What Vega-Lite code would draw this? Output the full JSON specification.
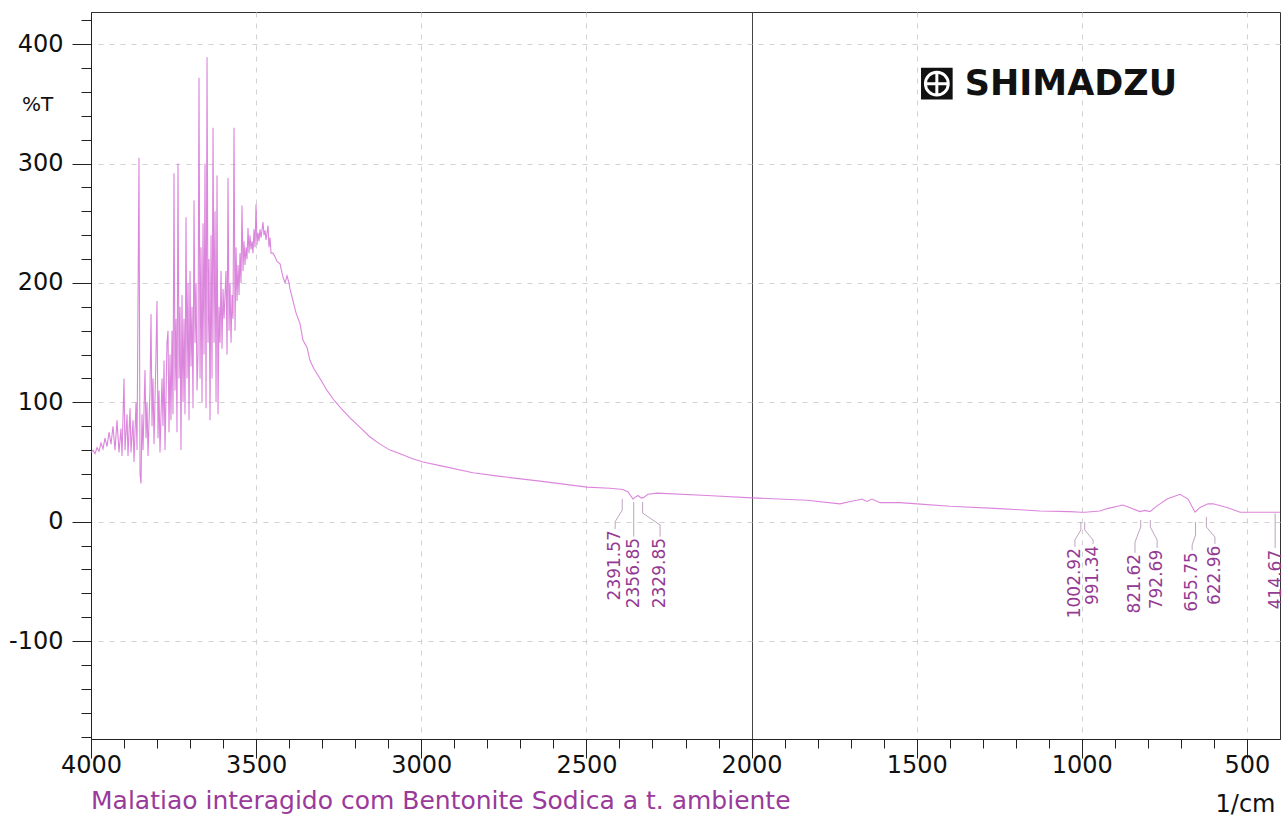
{
  "$schema": "https://vega.github.io/schema/vega-lite/v6.json",
  "width": 1189,
  "height": 727,
  "autosize": {"type": "none"},
  "padding": {"left": 91, "top": 12, "right": 4, "bottom": 77},
  "background": "white",
  "config": {"view": {"stroke": "#333333", "strokeWidth": 1}, "font": "DejaVu Sans"},
  "title": {
    "text": "Malatiao interagido com Bentonite Sodica a t. ambiente",
    "orient": "bottom",
    "anchor": "start",
    "frame": "group",
    "offset": 0,
    "dy": -7,
    "baseline": "alphabetic",
    "font": "DejaVu Sans",
    "fontSize": 25,
    "fontWeight": "normal",
    "color": "#9a3a9a"
  },
  "datasets": {
    "spectrum": [
      {"wn": 4000, "t": 58}, {"wn": 3993.9, "t": 60}, {"wn": 3987.9, "t": 57}, {"wn": 3981.8, "t": 62}, {"wn": 3975.8, "t": 59},
      {"wn": 3969.7, "t": 66}, {"wn": 3963.7, "t": 61}, {"wn": 3957.6, "t": 70}, {"wn": 3951.6, "t": 63}, {"wn": 3945.5, "t": 75},
      {"wn": 3939.4, "t": 65}, {"wn": 3933.4, "t": 80}, {"wn": 3927.3, "t": 60}, {"wn": 3921.3, "t": 85}, {"wn": 3915.2, "t": 58},
      {"wn": 3909.2, "t": 78}, {"wn": 3906.1, "t": 55}, {"wn": 3900.1, "t": 120}, {"wn": 3897.0, "t": 60}, {"wn": 3891.0, "t": 90},
      {"wn": 3888.0, "t": 55}, {"wn": 3881.9, "t": 95}, {"wn": 3878.9, "t": 58}, {"wn": 3872.8, "t": 85}, {"wn": 3869.8, "t": 50},
      {"wn": 3863.7, "t": 100}, {"wn": 3860.7, "t": 60}, {"wn": 3854.7, "t": 305}, {"wn": 3851.6, "t": 40}, {"wn": 3848.6, "t": 32},
      {"wn": 3845.6, "t": 90}, {"wn": 3842.5, "t": 60}, {"wn": 3836.5, "t": 127}, {"wn": 3833.4, "t": 70}, {"wn": 3830.4, "t": 100},
      {"wn": 3827.4, "t": 55}, {"wn": 3821.4, "t": 110}, {"wn": 3818.3, "t": 174}, {"wn": 3815.3, "t": 80}, {"wn": 3812.3, "t": 120},
      {"wn": 3809.2, "t": 65}, {"wn": 3803.2, "t": 140}, {"wn": 3800.2, "t": 185}, {"wn": 3797.1, "t": 70}, {"wn": 3794.1, "t": 110},
      {"wn": 3791.1, "t": 58}, {"wn": 3785.0, "t": 120}, {"wn": 3782.0, "t": 80}, {"wn": 3778.9, "t": 135}, {"wn": 3775.9, "t": 60},
      {"wn": 3769.9, "t": 150}, {"wn": 3766.9, "t": 160}, {"wn": 3763.8, "t": 75}, {"wn": 3760.8, "t": 140}, {"wn": 3757.8, "t": 85},
      {"wn": 3754.7, "t": 160}, {"wn": 3751.7, "t": 90}, {"wn": 3748.7, "t": 292}, {"wn": 3745.7, "t": 110}, {"wn": 3742.6, "t": 170},
      {"wn": 3739.6, "t": 75}, {"wn": 3736.6, "t": 300}, {"wn": 3733.5, "t": 120}, {"wn": 3730.5, "t": 180}, {"wn": 3727.5, "t": 60},
      {"wn": 3724.5, "t": 190}, {"wn": 3721.4, "t": 100}, {"wn": 3718.4, "t": 170}, {"wn": 3715.4, "t": 90}, {"wn": 3712.3, "t": 255},
      {"wn": 3709.3, "t": 120}, {"wn": 3706.3, "t": 200}, {"wn": 3703.2, "t": 85}, {"wn": 3700.2, "t": 210}, {"wn": 3697.2, "t": 130},
      {"wn": 3694.2, "t": 180}, {"wn": 3691.1, "t": 95}, {"wn": 3688.1, "t": 269}, {"wn": 3685.1, "t": 150}, {"wn": 3682.0, "t": 200},
      {"wn": 3679.0, "t": 110}, {"wn": 3676.0, "t": 140}, {"wn": 3673.0, "t": 372}, {"wn": 3669.9, "t": 120}, {"wn": 3666.9, "t": 230},
      {"wn": 3663.9, "t": 100}, {"wn": 3660.8, "t": 250}, {"wn": 3657.8, "t": 140}, {"wn": 3654.8, "t": 300}, {"wn": 3651.7, "t": 95},
      {"wn": 3648.7, "t": 389}, {"wn": 3645.7, "t": 150}, {"wn": 3642.7, "t": 220}, {"wn": 3639.6, "t": 85}, {"wn": 3636.6, "t": 240},
      {"wn": 3633.6, "t": 120}, {"wn": 3630.5, "t": 330}, {"wn": 3627.5, "t": 150}, {"wn": 3624.5, "t": 260}, {"wn": 3621.4, "t": 100},
      {"wn": 3618.4, "t": 290}, {"wn": 3615.4, "t": 90}, {"wn": 3612.4, "t": 180}, {"wn": 3609.3, "t": 150}, {"wn": 3606.3, "t": 210},
      {"wn": 3603.3, "t": 145}, {"wn": 3600.2, "t": 195}, {"wn": 3597.2, "t": 170}, {"wn": 3591.2, "t": 210}, {"wn": 3588.1, "t": 140},
      {"wn": 3585.1, "t": 288}, {"wn": 3582.1, "t": 160}, {"wn": 3579.1, "t": 200}, {"wn": 3576.0, "t": 150}, {"wn": 3573.0, "t": 190},
      {"wn": 3570.0, "t": 170}, {"wn": 3566.9, "t": 330}, {"wn": 3563.9, "t": 160}, {"wn": 3560.9, "t": 230}, {"wn": 3557.9, "t": 185},
      {"wn": 3554.8, "t": 215}, {"wn": 3551.8, "t": 190}, {"wn": 3548.9, "t": 225}, {"wn": 3545.8, "t": 200}, {"wn": 3542.8, "t": 265},
      {"wn": 3539.8, "t": 210}, {"wn": 3536.7, "t": 235}, {"wn": 3533.7, "t": 215}, {"wn": 3530.7, "t": 230}, {"wn": 3527.7, "t": 220},
      {"wn": 3524.6, "t": 246}, {"wn": 3521.6, "t": 225}, {"wn": 3518.6, "t": 240}, {"wn": 3515.5, "t": 228}, {"wn": 3512.5, "t": 235},
      {"wn": 3509.5, "t": 225}, {"wn": 3506.5, "t": 245}, {"wn": 3503.4, "t": 230}, {"wn": 3500.4, "t": 266}, {"wn": 3497.4, "t": 232},
      {"wn": 3494.4, "t": 242}, {"wn": 3491.3, "t": 235}, {"wn": 3488.3, "t": 245}, {"wn": 3485.3, "t": 238}, {"wn": 3479.2, "t": 251},
      {"wn": 3476.2, "t": 240}, {"wn": 3473.2, "t": 244}, {"wn": 3470.1, "t": 236}, {"wn": 3464.1, "t": 248}, {"wn": 3461.1, "t": 230},
      {"wn": 3458.0, "t": 238}, {"wn": 3455.0, "t": 225}, {"wn": 3448.9, "t": 225}, {"wn": 3442.9, "t": 222}, {"wn": 3436.8, "t": 218},
      {"wn": 3427.7, "t": 216}, {"wn": 3418.7, "t": 205}, {"wn": 3412.6, "t": 200}, {"wn": 3406.5, "t": 206}, {"wn": 3400.5, "t": 200},
      {"wn": 3397.5, "t": 195}, {"wn": 3388.4, "t": 185}, {"wn": 3379.3, "t": 175}, {"wn": 3367.2, "t": 166}, {"wn": 3358.1, "t": 152},
      {"wn": 3346.0, "t": 146}, {"wn": 3336.9, "t": 135}, {"wn": 3324.8, "t": 128}, {"wn": 3306.6, "t": 120}, {"wn": 3285.4, "t": 110},
      {"wn": 3267.3, "t": 103}, {"wn": 3246.1, "t": 96}, {"wn": 3215.8, "t": 87}, {"wn": 3185.5, "t": 79}, {"wn": 3155.2, "t": 71},
      {"wn": 3124.9, "t": 65}, {"wn": 3094.7, "t": 60}, {"wn": 3064.4, "t": 57}, {"wn": 3028.1, "t": 53}, {"wn": 2994.8, "t": 50},
      {"wn": 2943.3, "t": 47}, {"wn": 2843.4, "t": 41}, {"wn": 2761.6, "t": 38}, {"wn": 2640.5, "t": 34}, {"wn": 2498.2, "t": 29},
      {"wn": 2428.6, "t": 28}, {"wn": 2389.2, "t": 27}, {"wn": 2374.1, "t": 25}, {"wn": 2359.0, "t": 19}, {"wn": 2349.8, "t": 21},
      {"wn": 2343.8, "t": 22}, {"wn": 2334.7, "t": 20}, {"wn": 2328.6, "t": 20}, {"wn": 2313.5, "t": 23}, {"wn": 2286.3, "t": 24},
      {"wn": 2134.9, "t": 22}, {"wn": 1998.6, "t": 20}, {"wn": 1832.1, "t": 18}, {"wn": 1732.2, "t": 15}, {"wn": 1701.9, "t": 17},
      {"wn": 1680.7, "t": 18}, {"wn": 1665.6, "t": 19}, {"wn": 1650.4, "t": 17}, {"wn": 1635.3, "t": 19}, {"wn": 1611.1, "t": 16},
      {"wn": 1550.5, "t": 16}, {"wn": 1499.0, "t": 15}, {"wn": 1399.1, "t": 13}, {"wn": 1247.7, "t": 11}, {"wn": 1126.6, "t": 9},
      {"wn": 1035.8, "t": 8.5}, {"wn": 1002, "t": 8}, {"wn": 990.4, "t": 8}, {"wn": 945.0, "t": 9}, {"wn": 923.8, "t": 11},
      {"wn": 875.3, "t": 14}, {"wn": 848.1, "t": 11}, {"wn": 823.9, "t": 8.5}, {"wn": 809, "t": 9.5}, {"wn": 793.6, "t": 8.5},
      {"wn": 778, "t": 12}, {"wn": 763.3, "t": 15}, {"wn": 742.1, "t": 19}, {"wn": 702.8, "t": 23}, {"wn": 678.5, "t": 19},
      {"wn": 657.3, "t": 8}, {"wn": 642.2, "t": 12}, {"wn": 618.0, "t": 15}, {"wn": 602.8, "t": 15}, {"wn": 560.4, "t": 12},
      {"wn": 521.1, "t": 8}, {"wn": 460.5, "t": 8}, {"wn": 400, "t": 8}
    ],
    "leaders": [
      {"peak": "2391.57", "seq": 1, "wn": 2391.57, "t": 19}, {"peak": "2391.57", "seq": 2, "wn": 2391.57, "t": 9.8},
      {"peak": "2391.57", "seq": 3, "wn": 2413, "t": 0}, {"peak": "2391.57", "seq": 4, "wn": 2413, "t": -6},
      {"peak": "2356.85", "seq": 1, "wn": 2356.85, "t": 16.5}, {"peak": "2356.85", "seq": 2, "wn": 2356.85, "t": -12.5},
      {"peak": "2329.85", "seq": 1, "wn": 2329.85, "t": 16.5}, {"peak": "2329.85", "seq": 2, "wn": 2329.85, "t": 7.3},
      {"peak": "2329.85", "seq": 3, "wn": 2277, "t": -2.7}, {"peak": "2329.85", "seq": 4, "wn": 2277, "t": -12.5},
      {"peak": "1002.92", "seq": 1, "wn": 1002.92, "t": -0.2}, {"peak": "1002.92", "seq": 2, "wn": 1002.92, "t": -6.9},
      {"peak": "1002.92", "seq": 3, "wn": 1021, "t": -15.3}, {"peak": "1002.92", "seq": 4, "wn": 1021, "t": -21},
      {"peak": "991.34", "seq": 1, "wn": 991.34, "t": -0.2}, {"peak": "991.34", "seq": 2, "wn": 991.34, "t": -6.9},
      {"peak": "991.34", "seq": 3, "wn": 966, "t": -15.3}, {"peak": "991.34", "seq": 4, "wn": 966, "t": -18.5},
      {"peak": "821.62", "seq": 1, "wn": 821.62, "t": 1.4}, {"peak": "821.62", "seq": 2, "wn": 821.62, "t": -4.4},
      {"peak": "821.62", "seq": 3, "wn": 839, "t": -17}, {"peak": "821.62", "seq": 4, "wn": 839, "t": -26},
      {"peak": "792.69", "seq": 1, "wn": 792.69, "t": 1.4}, {"peak": "792.69", "seq": 2, "wn": 792.69, "t": -4.4},
      {"peak": "792.69", "seq": 3, "wn": 772, "t": -15.3}, {"peak": "792.69", "seq": 4, "wn": 772, "t": -22},
      {"peak": "655.75", "seq": 1, "wn": 655.75, "t": -0.2}, {"peak": "655.75", "seq": 2, "wn": 655.75, "t": -11.1},
      {"peak": "655.75", "seq": 3, "wn": 666, "t": -19.5}, {"peak": "655.75", "seq": 4, "wn": 666, "t": -24},
      {"peak": "622.96", "seq": 1, "wn": 622.96, "t": 4}, {"peak": "622.96", "seq": 2, "wn": 622.96, "t": -4.4},
      {"peak": "622.96", "seq": 3, "wn": 597, "t": -12.8}, {"peak": "622.96", "seq": 4, "wn": 597, "t": -18.5},
      {"peak": "414.67", "seq": 1, "wn": 414.67, "t": 7}, {"peak": "414.67", "seq": 2, "wn": 414.67, "t": -22}
    ],
    "peaks": [
      {"label": "2391.57", "wn": 2413, "t": -7},
      {"label": "2356.85", "wn": 2356, "t": -13.6},
      {"label": "2329.85", "wn": 2277, "t": -13.6},
      {"label": "1002.92", "wn": 1021, "t": -22},
      {"label": "991.34", "wn": 966, "t": -20},
      {"label": "821.62", "wn": 839, "t": -27},
      {"label": "792.69", "wn": 772, "t": -23.5},
      {"label": "655.75", "wn": 666, "t": -25.5},
      {"label": "622.96", "wn": 597, "t": -20},
      {"label": "414.67", "wn": 412, "t": -23.5}
    ],
    "logo": [
      {"brand": "SHIMADZU", "wn": 1439, "t": 367}
    ]
  },
  "encoding": {
    "x": {
      "field": "wn",
      "type": "quantitative",
      "scale": {"domain": [400, 4000], "reverse": true, "nice": false, "zero": false},
      "axis": {
        "values": [4000, 3900, 3800, 3700, 3600, 3500, 3400, 3300, 3200, 3100, 3000, 2900, 2800, 2700, 2600, 2500, 2400, 2300, 2200, 2100, 2000, 1900, 1800, 1700, 1600, 1500, 1400, 1300, 1200, 1100, 1000, 900, 800, 700, 600, 500],
        "labelExpr": "datum.value % 500 === 0 ? '' + datum.value : ''",
        "labelOverlap": false,
        "labelFlush": false,
        "labelFont": "DejaVu Sans",
        "labelFontSize": 24,
        "labelColor": "#111111",
        "labelPadding": -5,
        "tickSize": {"condition": {"test": "datum.value % 500 === 0", "value": 19}, "value": 9},
        "tickColor": "#222222",
        "domainColor": "#222222",
        "grid": true,
        "gridColor": {"condition": {"test": "datum.value === 2000", "value": "#444444"}, "value": "#d2d2d2"},
        "gridDash": {"condition": {"test": "datum.value === 2000", "value": []}, "value": [5, 6]},
        "gridOpacity": {"condition": {"test": "datum.value % 500 === 0 && datum.value !== 4000", "value": 1}, "value": 0},
        "title": "1/cm",
        "titleFont": "DejaVu Sans",
        "titleFontSize": 24,
        "titleFontWeight": "normal",
        "titleColor": "#111111",
        "titleAnchor": "end",
        "titleAlign": "right",
        "titleBaseline": "alphabetic",
        "titleX": 1184,
        "titleY": 72
      }
    },
    "y": {
      "field": "t",
      "type": "quantitative",
      "scale": {"domain": [-182, 427], "nice": false, "zero": false},
      "axis": {
        "values": [-180, -160, -140, -120, -100, -80, -60, -40, -20, 0, 20, 40, 60, 80, 100, 120, 140, 160, 180, 200, 220, 240, 260, 280, 300, 320, 340, 360, 380, 400, 420],
        "labelExpr": "datum.value % 100 === 0 ? '' + datum.value : ''",
        "labelOverlap": false,
        "labelFlush": false,
        "labelFont": "DejaVu Sans",
        "labelFontSize": 24,
        "labelColor": "#111111",
        "labelPadding": 9,
        "tickSize": {"condition": {"test": "datum.value % 100 === 0", "value": 19}, "value": 10},
        "tickColor": "#222222",
        "domainColor": "#222222",
        "grid": true,
        "gridColor": "#d2d2d2",
        "gridDash": [5, 6],
        "gridOpacity": {"condition": {"test": "datum.value % 100 === 0", "value": 1}, "value": 0},
        "title": "%T",
        "titleFont": "DejaVu Sans",
        "titleFontSize": 20,
        "titleFontWeight": "normal",
        "titleColor": "#111111",
        "titleAngle": 0,
        "titleAlign": "center",
        "titleBaseline": "alphabetic",
        "titleX": -54,
        "titleY": 98
      }
    }
  },
  "layer": [
    {
      "data": {"name": "spectrum"},
      "mark": {"type": "line", "stroke": "#d878d8", "strokeWidth": 1.1, "opacity": 0.9}
    },
    {
      "data": {"name": "leaders"},
      "mark": {"type": "line", "stroke": "#8c5c8c", "strokeWidth": 0.8, "opacity": 0.7},
      "encoding": {"detail": {"field": "peak"}, "order": {"field": "seq", "type": "quantitative"}}
    },
    {
      "data": {"name": "peaks"},
      "mark": {"type": "text", "angle": 270, "align": "right", "baseline": "middle", "font": "DejaVu Sans", "fontSize": 17, "color": "#933a93"},
      "encoding": {"text": {"field": "label"}}
    },
    {
      "data": {"name": "logo"},
      "mark": {"type": "point", "shape": "square", "filled": true, "color": "#111111", "opacity": 1, "size": 1000}
    },
    {
      "data": {"name": "logo"},
      "mark": {"type": "point", "shape": "circle", "filled": false, "color": "white", "strokeWidth": 3, "opacity": 1, "size": 520}
    },
    {
      "data": {"name": "logo"},
      "mark": {"type": "point", "shape": "M-1,0L1,0M0,-1L0,1", "filled": false, "color": "white", "strokeWidth": 3, "opacity": 1, "size": 520}
    },
    {
      "data": {"name": "logo"},
      "mark": {"type": "text", "align": "left", "baseline": "middle", "dx": 28, "font": "DejaVu Sans", "fontWeight": "bold", "fontSize": 35, "color": "#111111"},
      "encoding": {"text": {"field": "brand"}}
    }
  ]
}
